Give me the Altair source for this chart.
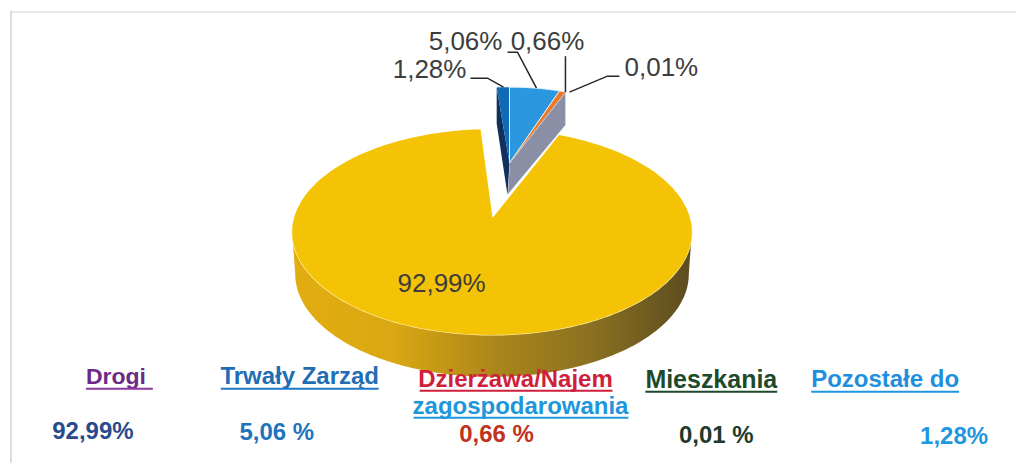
import numpy as np
import pandas as pd
import altair as alt

# ---- values ----
categories = ["Drogi", "Trwały Zarząd", "Dzierżawa/Najem", "Mieszkania", "Pozostałe do"]
shares = [92.99, 5.06, 0.66, 0.01, 1.28]
pie_labels = ["92,99%", "5,06%", "0,66%", "0,01%", "1,28%"]
legend_values = ["92,99%", "5,06 %", "0,66 %", "0,01 %", "1,28%"]

# ---- reference pixel frame ----
W, H = 1009, 455
x_scale = alt.Scale(domain=[8, 8 + W], range=[0, W], nice=False, zero=False)
y_scale = alt.Scale(domain=[8, 8 + H], range=[0, H], nice=False, zero=False)
PROJ = dict(type="identity", scale=1, translate=[-8, -8])


def ell(cx, cy, a, b, t0, t1, n=160):
    t = np.radians(np.linspace(t0, t1, n))
    return [[float(cx + a * np.sin(v)), float(cy - b * np.cos(v))] for v in t]


def poly(pts, **mark):
    ring = list(pts) + [pts[0]]
    feat = {"type": "Feature", "properties": {},
            "geometry": {"type": "Polygon", "coordinates": [ring]}}
    return alt.Chart(alt.Data(values=[feat])).mark_geoshape(**mark).project(**PROJ)


def pline(pts, **mark):
    feat = {"type": "Feature", "properties": {},
            "geometry": {"type": "LineString", "coordinates": pts}}
    return alt.Chart(alt.Data(values=[feat])).mark_geoshape(filled=False, **mark).project(**PROJ)


# angles derived from the shares (clockwise from north)
deg = [s * 3.6 for s in shares]
blue_end = deg[1]
orange_end = blue_end + deg[2]
sliver_end = orange_end + deg[3]
dark_start = -deg[4]

# big slice (the drawing's perspective narrows the gap by about a degree on each side)
CX, CY, A, B = 492.5, 232, 200, 103
DEPTH_Y = 42
APEX = [493, 218]
big_top = [APEX] + ell(CX, CY, A, B, sliver_end - 1, 360 + dark_start + 1.3, 300)

front_top = ell(CX, CY, A, B, 90, 270, 160)
front_bot = ell(CX, CY + DEPTH_Y, A - 3, B, 270, 90, 160)
side_grad = alt.LinearGradient(
    gradient="linear", x1=0, x2=1, y1=0, y2=0,
    stops=[alt.GradientStop(color="#e2ad10", offset=0),
           alt.GradientStop(color="#d9a812", offset=0.25),
           alt.GradientStop(color="#ad871b", offset=0.5),
           alt.GradientStop(color="#8a7020", offset=0.75),
           alt.GradientStop(color="#5c4c20", offset=1)],
)

# small exploded group
SX, SY, SA, SB = 510, 163, 160, 76
SD = 33
p_end = ell(SX, SY, SA, SB, sliver_end, sliver_end, 1)[0]
p_left = ell(SX, SY, SA, SB, dark_start, dark_start, 1)[0]

layers = [
    poly(front_top + front_bot, fill=side_grad, stroke=None),
    pline(ell(CX, CY, A, B, 85, 275, 160), stroke="#fff2a8", strokeWidth=1.3),
    # cut faces of the small group
    poly([[SX, SY], p_end, [p_end[0], p_end[1] + SD], [SX - 2, SY + SD - 1]],
         fill="#8b8fa6", stroke="#ffffff", strokeWidth=0.8),
    poly([p_left, [SX, SY], [SX - 2, SY + SD - 1], [p_left[0], p_left[1] + SD + 3]],
         fill="#12305c", stroke=None),
    # small slices' top faces
    poly([[SX, SY]] + ell(SX, SY, SA, SB, dark_start, 0, 12), fill="#0f6bb6", stroke=None),
    poly([[SX, SY]] + ell(SX, SY, SA, SB, 0, blue_end, 40), fill="#2a97de",
         stroke="#dff1fb", strokeWidth=1),
    poly([[SX, SY]] + ell(SX, SY, SA, SB, blue_end, orange_end, 8), fill="#ea7a2a",
         stroke="#ffffff", strokeWidth=0.7),
    poly([[SX, SY]] + ell(SX, SY, SA, SB, orange_end, sliver_end, 2), fill="#8a8a8a", stroke="#8a8a8a",
         strokeWidth=0.3),
    # big slice top face
    poly(big_top, fill="#f5c306", stroke=None),
]

# ---- frame ----
frame = pd.DataFrame({"x": [11, 11], "x2": [11, 1017], "y": [10, 12], "y2": [463, 12], "w": [2.0, 1.2]})
frame_l = alt.Chart(frame).mark_rule(color="#dcdcdc").encode(
    x=alt.X("x:Q", scale=x_scale, axis=None), x2="x2:Q",
    y=alt.Y("y:Q", scale=y_scale, axis=None), y2="y2:Q",
    strokeWidth=alt.StrokeWidth("w:Q", scale=None),
)

# ---- leader lines ----
leader = pd.DataFrame({
    "g": [0, 0, 0, 1, 1, 1, 2, 2, 3, 3, 3],
    "o": [0, 1, 2, 0, 1, 2, 0, 1, 0, 1, 2],
    "x": [471, 488, 504, 508, 518, 537, 566, 566, 620, 608, 570],
    "y": [78, 78, 87, 52, 52, 88, 56, 92, 76, 76, 92],
})
leader_l = alt.Chart(leader).mark_line(color="#262626", strokeWidth=1.5).encode(
    x=alt.X("x:Q", scale=x_scale, axis=None),
    y=alt.Y("y:Q", scale=y_scale, axis=None),
    detail="g:N", order="o:Q",
)

# ---- texts ----
rows = []
for lab, x, y in zip(pie_labels, [442, 466, 548, 662, 430], [284, 42, 42, 68, 70]):
    rows.append(dict(t=lab, x=x, y=y, s=26, w="normal", c="#3d3d3d"))
for lab, x, y, c in zip(legend_values, [93, 277, 497, 717, 955], [432, 433, 435, 436, 437],
                        ["#2b4a8c", "#1f74bd", "#bf3320", "#1d3a2b", "#1f96e0"]):
    rows.append(dict(t=lab, x=x, y=y, s=24, w="bold", c=c))
head_x = [116, 300, 516, 712, 886]
head_y = [377, 377, 380, 380, 380]
head_s = [23, 24, 24, 25, 24]
head_c = ["#6b2a86", "#1f6db5", "#d01f3c", "#1d4a2a", "#1f8fdd"]
for lab, x, y, s, c in zip(categories, head_x, head_y, head_s, head_c):
    rows.append(dict(t=lab, x=x, y=y, s=s, w="bold", c=c))
rows.append(dict(t="zagospodarowania", x=521, y=407, s=24, w="bold", c="#1e96dc"))
texts = pd.DataFrame(rows)

text_layers = []
for weight in ["normal", "bold"]:
    text_layers.append(
        alt.Chart(texts[texts.w == weight]).mark_text(
            font="Liberation Sans", align="center", baseline="middle", fontWeight=weight
        ).encode(
            x=alt.X("x:Q", scale=x_scale, axis=None),
            y=alt.Y("y:Q", scale=y_scale, axis=None),
            text="t:N",
            size=alt.Size("s:Q", scale=None),
            color=alt.Color("c:N", scale=None),
        )
    )

under = pd.DataFrame({
    "x": [86, 221, 420, 414, 646, 812],
    "x2": [153, 379, 613, 629, 778, 960],
    "y": [389, 389, 391, 418, 392, 392],
    "c": ["#8a3a9e", "#1f78c8", "#d01f3c", "#1e96dc", "#1d4a2a", "#1f96e0"],
})
under_l = alt.Chart(under).mark_rule(strokeWidth=2).encode(
    x=alt.X("x:Q", scale=x_scale, axis=None), x2="x2:Q",
    y=alt.Y("y:Q", scale=y_scale, axis=None),
    color=alt.Color("c:N", scale=None),
)

chart = alt.layer(frame_l, *layers, leader_l, *text_layers, under_l).properties(
    width=W, height=H, padding=0, background="#ffffff"
).configure_view(stroke=None)

chart.save("out.html", embed_options={"renderer": "svg", "actions": False})
